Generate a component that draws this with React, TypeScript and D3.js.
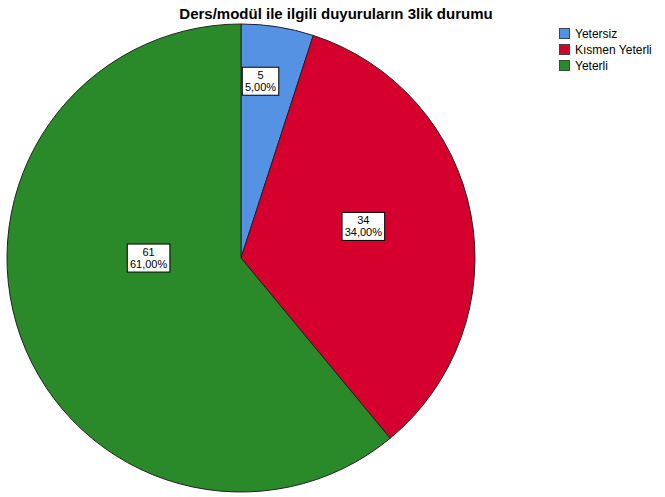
import React from 'react';
import * as d3 from 'd3';

const title = 'Ders/modül ile ilgili duyuruların 3lik durumu';
const categories = ['Yetersiz', 'Kısmen Yeterli', 'Yeterli'];
const counts = [5, 34, 61];
const percents = ['5,00%', '34,00%', '61,00%'];
const colors = ['#5592e3', '#d5002e', '#2a8a2a'];
// where each label sits inside its slice: share of the slice's sweep, share of the radius
const labelSweep = [0.35, 0.47, 0.59];
const labelRadius = [0.76, 0.54, 0.395];

const W = 665, H = 497;
const cx = 241, cy = 258, r = 234;
const font = '"Liberation Sans", Arial, sans-serif';

export default function App() {
  const pie = d3.pie<number>().sort(null).startAngle(0).endAngle(2 * Math.PI);
  const arcs = pie(counts);
  const arc = d3.arc<d3.PieArcDatum<number>>().innerRadius(0).outerRadius(r);

  return (
    <svg width={W} height={H} style={{ position: 'absolute', left: 0, top: 0, background: '#fff' }} fontFamily={font}>
      <text x={336} y={19} textAnchor="middle" fontSize={15} fontWeight="bold" fill="#000">{title}</text>
      <g transform={`translate(${cx},${cy})`}>
        {arcs.map((a, i) => (
          <path key={i} d={arc(a) || ''} fill={colors[i]} stroke="#222" strokeWidth={1} />
        ))}
        {arcs.map((a, i) => {
          const ang = a.startAngle + (a.endAngle - a.startAngle) * labelSweep[i];
          const lr = r * labelRadius[i];
          const x = Math.sin(ang) * lr;
          const y = -Math.cos(ang) * lr;
          const l1 = String(counts[i]);
          const l2 = percents[i];
          const w = Math.max(l1.length, l2.length) * 6.1 + 6;
          const h = 28;
          return (
            <g key={'l' + i} transform={`translate(${x},${y})`}>
              <rect x={-w / 2} y={-h / 2} width={w} height={h} fill="#fff" stroke="#000" strokeWidth={1} />
              <text y={-2} textAnchor="middle" fontSize={11} fill="#000">{l1}</text>
              <text y={10} textAnchor="middle" fontSize={11} fill="#000">{l2}</text>
            </g>
          );
        })}
      </g>
      <g transform="translate(559,28)">
        {categories.map((c, i) => (
          <g key={c} transform={`translate(0,${i * 16})`}>
            <rect x={0.5} y={0.5} width={10} height={10} fill={colors[i]} stroke="#444" strokeWidth={1} />
            <text x={16} y={10} fontSize={12} fill="#000">{c}</text>
          </g>
        ))}
      </g>
    </svg>
  );
}
